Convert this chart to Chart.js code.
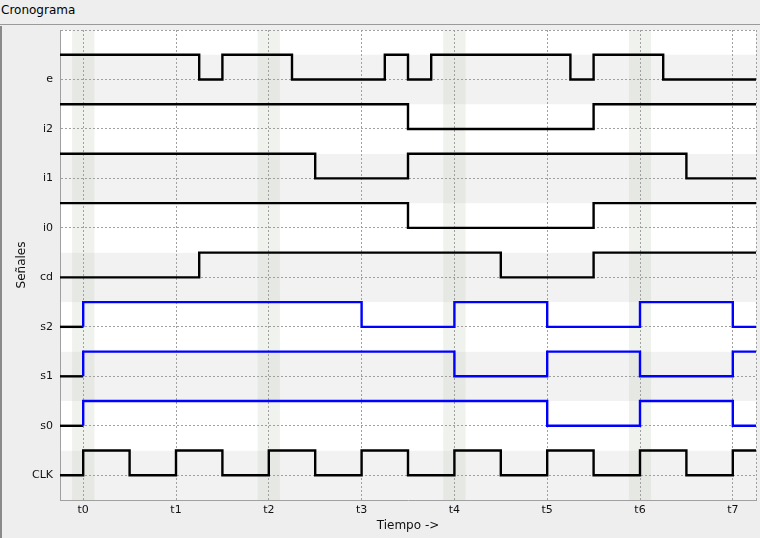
<!DOCTYPE html>
<html>
<head>
<meta charset="utf-8">
<script src="https://cdn.jsdelivr.net/npm/chart.js@4/dist/chart.umd.min.js"></script>
<style>
  html, body { margin: 0; padding: 0; background: #eeeeee; }
  #wrap { position: relative; width: 760px; height: 538px; overflow: hidden; background: #eeeeee; }
  #hdr { position: absolute; left: 0; top: 0; width: 760px; height: 25px; border-bottom: 1px solid #9a9a9a;
         font-family: "DejaVu Sans", sans-serif; font-size: 12px; color: #000; line-height: 20px; padding-left: 1px; box-sizing: border-box; }
  #lb { position: absolute; left: 0; top: 26px; width: 2px; height: 512px; background: #8a8a8a; }
  canvas { position: absolute; left: 0; top: 0; }
</style>
</head>
<body>
<div id="wrap">
  <div id="hdr">Cronograma</div>
  <div id="lb"></div>
  <canvas id="c" width="760" height="538"></canvas>
</div>
<script>
// ---- data (signals listed bottom to top) ----
const signalNames = ['CLK', 's0', 's1', 's2', 'cd', 'i0', 'i1', 'i2', 'e'];
const outputSignals = ['s0', 's1', 's2'];
const tickLabels = ['t0', 't1', 't2', 't3', 't4', 't5', 't6', 't7'];
const shadedTimes = [0, 2, 4, 6];

const eTimes   = [-0.25, 1.25, 1.5, 2.25, 3.25, 3.5, 3.75, 5.25, 5.5, 6.25, 7.25];
const eValues  = [1, 0, 1, 0, 1, 0, 1, 0, 1, 0, 0];
const i2Times  = [-0.25, 3.5, 5.5, 7.25];
const i2Values = [1, 0, 1, 1];
const i1Times  = [-0.25, 2.5, 3.5, 6.5, 7.25];
const i1Values = [1, 0, 1, 0, 0];
const i0Times  = [-0.25, 3.5, 5.5, 7.25];
const i0Values = [1, 0, 1, 1];
const cdTimes  = [-0.25, 1.25, 4.5, 5.5, 7.25];
const cdValues = [0, 1, 0, 1, 1];
const s2Times  = [-0.25, 0, 3, 4, 5, 6, 7, 7.25];
const s2Values = [0, 1, 0, 1, 0, 1, 0, 0];
const s1Times  = [-0.25, 0, 4, 5, 6, 7, 7.25];
const s1Values = [0, 1, 0, 1, 0, 1, 1];
const s0Times  = [-0.25, 0, 5, 6, 7, 7.25];
const s0Values = [0, 1, 0, 1, 0, 0];
const clkTimes  = [-0.25, 0, 0.5, 1, 1.5, 2, 2.5, 3, 3.5, 4, 4.5, 5, 5.5, 6, 6.5, 7, 7.25];
const clkValues = [0, 1, 0, 1, 0, 1, 0, 1, 0, 1, 0, 1, 0, 1, 0, 1, 1];

const signalData = {
  e: [eTimes, eValues], i2: [i2Times, i2Values], i1: [i1Times, i1Values], i0: [i0Times, i0Values],
  cd: [cdTimes, cdValues], s2: [s2Times, s2Values], s1: [s1Times, s1Values], s0: [s0Times, s0Values],
  CLK: [clkTimes, clkValues]
};

// build step points (corner points) from transitions
function toPoints(times, values, level) {
  const pts = [{ x: times[0], y: level + 0.5 * values[0] }];
  for (let i = 1; i < times.length; i++) {
    pts.push({ x: times[i], y: level + 0.5 * values[i - 1] });
    if (values[i] !== values[i - 1]) pts.push({ x: times[i], y: level + 0.5 * values[i] });
  }
  return pts;
}

const datasets = signalNames.map((name, level) => {
  const [t, v] = signalData[name];
  const isOut = outputSignals.includes(name);
  return {
    label: name,
    data: toPoints(t, v, level),
    borderColor: isOut ? '#0000ff' : '#000000',
    segment: isOut ? { borderColor: c => (c.p0.parsed.x < 0 ? '#000000' : '#0000ff') } : undefined,
    borderWidth: 2.4,
    pointRadius: 0,
    tension: 0,
    fill: false,
    borderJoinStyle: 'miter',
    borderCapStyle: 'butt'
  };
});

const bandPlugin = {
  id: 'bands',
  beforeDraw(chart) {
    const { ctx, chartArea: a, scales: { x, y } } = chart;
    ctx.save();
    ctx.fillStyle = '#ffffff';
    ctx.fillRect(a.left, a.top, a.right - a.left, a.bottom - a.top);
    for (let k = 0; k < signalNames.length; k++) {
      ctx.fillStyle = (k % 2 === 0) ? '#f2f2f2' : '#ffffff';
      const y1 = y.getPixelForValue(k + 0.5), y2 = y.getPixelForValue(k - 0.5);
      ctx.fillRect(a.left, y1, a.right - a.left, y2 - y1);
    }
    ctx.fillStyle = 'rgba(200,210,195,0.28)';
    shadedTimes.forEach(t => {
      const x1 = x.getPixelForValue(t - 0.12), x2 = x.getPixelForValue(t + 0.12);
      ctx.fillRect(x1, a.top, x2 - x1, a.bottom - a.top);
    });
    ctx.restore();
  }
};

new Chart(document.getElementById('c'), {
  type: 'line',
  data: { datasets },
  options: {
    responsive: false,
    animation: false,
    layout: { padding: { left: 0, top: 30, right: 4, bottom: 0 } },
    plugins: { legend: { display: false }, tooltip: { enabled: false }, title: { display: false } },
    scales: {
      x: {
        type: 'linear', min: -0.25, max: 7.25,
        afterBuildTicks: s => { s.ticks = tickLabels.map((_, i) => ({ value: i })).concat([{ value: 7.25 }]); },
        afterFit: s => { s.height = 38; },
        ticks: {
          autoSkip: false, maxRotation: 0, padding: 4, color: '#111',
          font: { family: 'DejaVu Sans', size: 11 },
          callback: v => (Number.isInteger(v) && tickLabels[v] !== undefined ? tickLabels[v] : '')
        },
        grid: { color: '#a0a0a0', lineWidth: 1, drawTicks: false },
        border: { display: true, color: '#a0a0a0', width: 1, dash: [2, 2] },
        title: { display: true, text: 'Tiempo ->', color: '#111', font: { family: 'DejaVu Sans', size: 12 }, padding: { top: 0, bottom: 5 } }
      },
      y: {
        type: 'linear', min: -0.5, max: 9,
        afterBuildTicks: s => { s.ticks = signalNames.map((_, i) => ({ value: i })).concat([{ value: 9 }]); },
        afterFit: s => { s.width = 60; },
        ticks: {
          autoSkip: false, padding: 7, color: '#111',
          font: { family: 'DejaVu Sans', size: 11 },
          callback: v => (signalNames[v] !== undefined ? signalNames[v] : '')
        },
        grid: { color: '#a0a0a0', lineWidth: 1, drawTicks: false },
        border: { display: true, color: '#a0a0a0', width: 1, dash: [2, 2] },
        title: { display: true, text: 'Señales', color: '#111', font: { family: 'DejaVu Sans', size: 12 }, padding: { top: 15, bottom: 0 } }
      }
    }
  },
  plugins: [bandPlugin]
});
</script>
</body>
</html>
